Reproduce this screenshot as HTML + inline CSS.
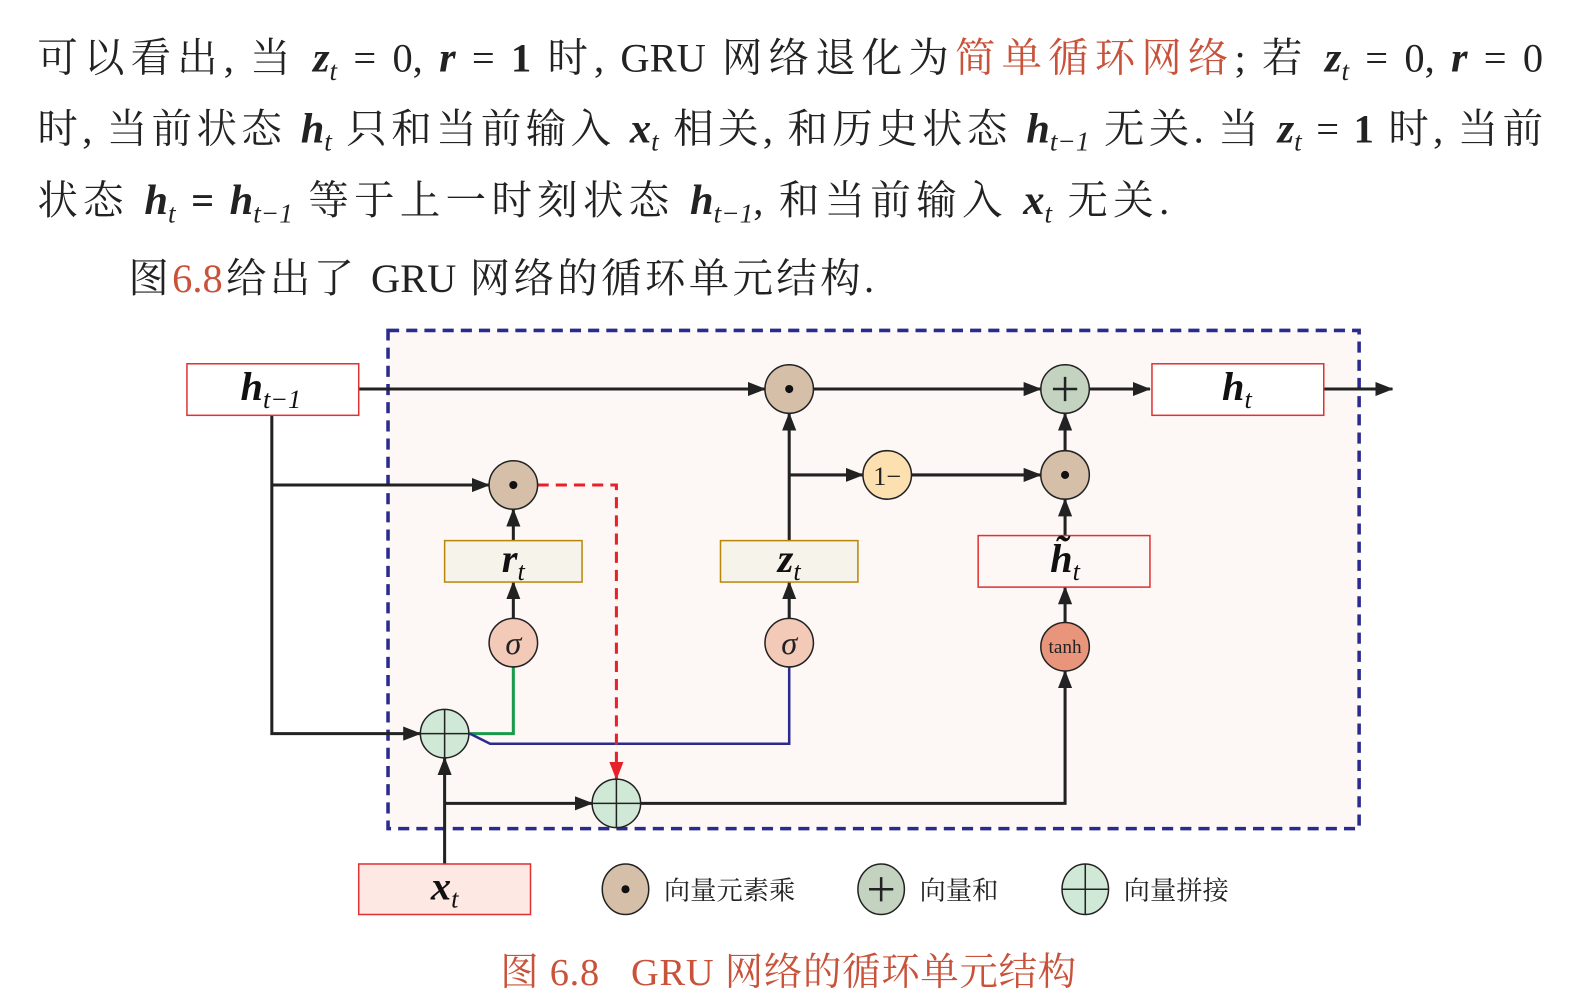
<!DOCTYPE html>
<html style="overflow:hidden"><head><meta charset="utf-8"><style>
html,body{margin:0;padding:0;overflow:hidden}
body{background:#fff;width:1584px;height:1002px;position:relative;font-family:"Liberation Serif","Noto Serif CJK SC",serif;color:#222}
#w{position:absolute;left:0;top:0;width:1584px;height:1002px;overflow:hidden;transform:scale(1.0105);transform-origin:0 0}
.ln{position:absolute;left:37px;width:1490px;font-size:40px;line-height:48px;white-space:nowrap;text-align:justify;text-align-last:justify;overflow:hidden}
.m{font-weight:bold;font-style:italic;font-size:42px}
sub{font-size:27px;font-weight:normal;font-style:italic;vertical-align:-8px;line-height:0}
.r{color:#c8523a}
svg{position:absolute;left:0;top:0}
</style></head><body><div id="w">
<div class="ln" style="top:34px">可以看出, 当 <span class="m">z</span><sub>t</sub> = 0, <span class="m">r</span> = <b>1</b> 时, GRU 网络退化为<span class="r">简单循环网络</span>; 若 <span class="m">z</span><sub>t</sub> = 0, <span class="m">r</span> = 0</div>
<div class="ln" style="top:104px">时, 当前状态 <span class="m">h</span><sub>t</sub> 只和当前输入 <span class="m">x</span><sub>t</sub> 相关, 和历史状态 <span class="m">h</span><sub>t−1</sub> 无关. 当 <span class="m">z</span><sub>t</sub> = <b>1</b> 时, 当前</div>
<div class="ln" style="top:175px;width:1120px">状态 <span class="m">h</span><sub>t</sub> <b>=</b> <span class="m">h</span><sub>t−1</sub> 等于上一时刻状态 <span class="m">h</span><sub>t−1</sub>, 和当前输入 <span class="m">x</span><sub>t</sub> 无关.</div>
<div class="ln" style="top:252px;left:127px;width:738px">图<span class="r">6.8</span>给出了 GRU 网络的循环单元结构.</div>
<svg width="1584" height="1002" viewBox="0 0 1584 1002" font-family="Liberation Serif, Noto Serif CJK SC, serif">
<defs>
<marker id="b" markerWidth="18" markerHeight="14" refX="17" refY="7" orient="auto" markerUnits="userSpaceOnUse"><path d="M0,0 L18,7 L0,14 z" fill="#222"/></marker>
<marker id="c" markerWidth="18" markerHeight="14" refX="17" refY="7" orient="auto" markerUnits="userSpaceOnUse"><path d="M0,0 L18,7 L0,14 z" fill="#e8202a"/></marker></defs>
<rect x="384" y="327" width="961" height="493" fill="#fdf8f6" stroke="#2b2b8f" stroke-width="3.5" stroke-dasharray="11,7"/>
<g stroke="#222" stroke-width="3" fill="none">
<path d="M355,385 H757" marker-end="url(#b)"/>
<path d="M805,385 H1030" marker-end="url(#b)"/>
<path d="M1078,385 H1138" marker-end="url(#b)"/>
<path d="M1310,385 H1378" marker-end="url(#b)"/>
<path d="M269,411 V726 H416" marker-end="url(#b)"/>
<path d="M269,480 H484" marker-end="url(#b)"/>
<path d="M508,535 V504" marker-end="url(#b)"/>
<path d="M508,612 V576" marker-end="url(#b)"/>
<path d="M781,535 V409" marker-end="url(#b)"/>
<path d="M781,470 H854" marker-end="url(#b)"/>
<path d="M902,470 H1030" marker-end="url(#b)"/>
<path d="M1054,446 V409" marker-end="url(#b)"/>
<path d="M1054,530 V494" marker-end="url(#b)"/>
<path d="M1054,616 V581" marker-end="url(#b)"/>
<path d="M781,612 V576" marker-end="url(#b)"/>
<path d="M634,795 H1054 V664" marker-end="url(#b)"/>
<path d="M440,855 V750" marker-end="url(#b)"/>
<path d="M440,795 H586" marker-end="url(#b)"/>
</g>
<path d="M464,726 H508 V660" stroke="#1a9a4a" stroke-width="3" fill="none"/>
<path d="M465,726 L485,736 H781 V660" stroke="#2b2b8f" stroke-width="2.5" fill="none"/>
<path d="M532,480 H610 V771" stroke="#e8202a" stroke-width="3" fill="none" stroke-dasharray="11,7" marker-end="url(#c)"/>
<g stroke="#d33" stroke-width="1.5"><rect x="185" y="360" width="170" height="51" fill="#fff"/><rect x="1140" y="360" width="170" height="51" fill="#fff"/><rect x="968" y="530" width="170" height="51" fill="none"/><rect x="355" y="855" width="170" height="50" fill="#fde8e4"/></g>
<g stroke="#b8860b" stroke-width="1.5" fill="#f6f3ea"><rect x="440" y="535" width="136" height="41"/><rect x="713" y="535" width="136" height="41"/></g>
<g stroke="#222" stroke-width="1.5">
<circle cx="781" cy="385" r="24" fill="#d5bfa8"/><circle cx="508" cy="480" r="24" fill="#d5bfa8"/><circle cx="1054" cy="470" r="24" fill="#d5bfa8"/>
<circle cx="1054" cy="385" r="24" fill="#c3d3c0"/>
<circle cx="878" cy="470" r="24" fill="#fde0b0"/>
<circle cx="508" cy="636" r="24" fill="#f3c9b8"/><circle cx="781" cy="636" r="24" fill="#f3c9b8"/>
<circle cx="1054" cy="640" r="24" fill="#e8957c"/>
<circle cx="440" cy="726" r="24" fill="#cfe9d6"/><circle cx="610" cy="795" r="24" fill="#cfe9d6"/>
<ellipse cx="619" cy="880" rx="23" ry="25" fill="#d5bfa8"/><ellipse cx="872" cy="880" rx="23" ry="25" fill="#c3d3c0"/><ellipse cx="1074" cy="880" rx="23" ry="25" fill="#cfe9d6"/>
<path d="M416,726 H464 M440,702 V750 M586,795 H634 M610,771 V819 M1051,880 H1097 M1074,855 V905" fill="none"/>
<path d="M1042,385 H1066 M1054,373 V397 M860,880 H884 M872,868 V892" stroke-width="2.5" fill="none"/>
</g>
<g fill="#111"><circle cx="781" cy="385" r="4"/><circle cx="508" cy="480" r="4"/><circle cx="1054" cy="470" r="4"/><circle cx="619" cy="880" r="4"/></g>
<g font-size="40" font-weight="bold" font-style="italic" fill="#111" text-anchor="middle">
<text x="268" y="396">h<tspan font-size="26" font-weight="normal" dy="8">t−1</tspan></text>
<text x="1224" y="396">h<tspan font-size="26" font-weight="normal" dy="8">t</tspan></text>
<text x="1054" y="566">h̃<tspan font-size="26" font-weight="normal" dy="8">t</tspan></text>
<text x="440" y="890">x<tspan font-size="26" font-weight="normal" dy="8">t</tspan></text>
<text x="508" y="566">r<tspan font-size="26" font-weight="normal" dy="8">t</tspan></text>
<text x="781" y="566">z<tspan font-size="26" font-weight="normal" dy="8">t</tspan></text>
</g>
<g font-size="32" font-style="italic" fill="#222" text-anchor="middle"><text x="508" y="647">σ</text><text x="781" y="647">σ</text></g>
<text x="878" y="480" font-size="26" text-anchor="middle" fill="#222">1−</text>
<text x="1054" y="646" font-size="19" text-anchor="middle" fill="#222">tanh</text>
<g font-size="26" fill="#222"><text x="657" y="890" textLength="130">向量元素乘</text><text x="910" y="890" textLength="78">向量和</text><text x="1112" y="890" textLength="104">向量拼接</text></g>
<text x="495" y="975" font-size="38" fill="#c8523a" xml:space="preserve" textLength="570">图 6.8   GRU 网络的循环单元结构</text>
</svg>
</div></body></html>
